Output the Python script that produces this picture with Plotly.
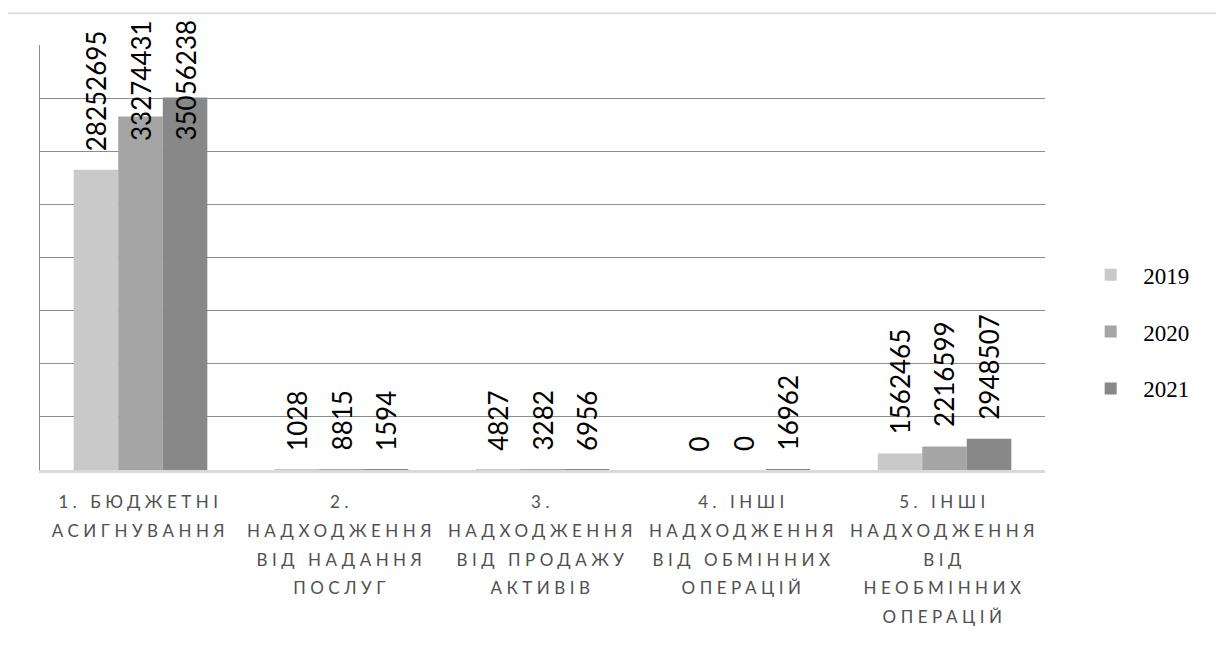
import plotly.graph_objects as go

categories = [
    "1. БЮДЖЕТНІ АСИГНУВАННЯ",
    "2. НАДХОДЖЕННЯ ВІД НАДАННЯ ПОСЛУГ",
    "3. НАДХОДЖЕННЯ ВІД ПРОДАЖУ АКТИВІВ",
    "4. ІНШІ НАДХОДЖЕННЯ ВІД ОБМІННИХ ОПЕРАЦІЙ",
    "5. ІНШІ НАДХОДЖЕННЯ ВІД НЕОБМІННИХ ОПЕРАЦІЙ",
]
label_lines = [
    ["1. БЮДЖЕТНІ", "АСИГНУВАННЯ"],
    ["2.", "НАДХОДЖЕННЯ", "ВІД НАДАННЯ", "ПОСЛУГ"],
    ["3.", "НАДХОДЖЕННЯ", "ВІД ПРОДАЖУ", "АКТИВІВ"],
    ["4. ІНШІ", "НАДХОДЖЕННЯ", "ВІД ОБМІННИХ", "ОПЕРАЦІЙ"],
    ["5. ІНШІ", "НАДХОДЖЕННЯ", "ВІД", "НЕОБМІННИХ", "ОПЕРАЦІЙ"],
]
years = ["2019", "2020", "2021"]
v2019 = [28252695, 1028, 4827, 0, 1562465]
v2020 = [33274431, 8815, 3282, 0, 2216599]
v2021 = [35056238, 1594, 6956, 16962, 2948507]
series = [v2019, v2020, v2021]
colors = ["#c9c9c9", "#a5a5a5", "#888888"]

Y_MAX = 40_000_000
Y_STEP = 5_000_000

fig = go.Figure()
for i, (yr, vals) in enumerate(zip(years, series)):
    fig.add_trace(go.Bar(
        x=categories, y=vals, name=yr,
        marker=dict(color=colors[i], line=dict(width=0)),
        legendgroup=yr,
    ))

# data labels
bar_px = 44.6
for i, vals in enumerate(series):
    for c, v in zip(categories, vals):
        big = v > 30_000_000
        fig.add_annotation(
            x=c, y=Y_MAX if big else v, xref="x", yref="y",
            text=str(v), textangle=-90, showarrow=False,
            xanchor="center", yanchor="top" if big else "bottom",
            xshift=(i - 1) * bar_px, yshift=27 if big else 17,
            font=dict(family="Lato", size=26, color="#000000"),
        )

def styled(lines):
    return "<br>".join(
        f'<span style="font-size:17px;letter-spacing:4.5px">{ln}</span>' for ln in lines
    )

# outer light frame
fig.add_shape(type="line", xref="paper", yref="paper",
              x0=-0.034, x1=1.2, y0=1.075, y1=1.075,
              line=dict(color="#e0e0e0", width=2))
fig.add_shape(type="line", xref="paper", yref="paper",
              x0=-0.034, x1=-0.034, y0=1.075, y1=-0.45,
              line=dict(color="#e0e0e0", width=2))

fig.update_layout(
    width=1224, height=646,
    margin=dict(l=32, r=187, t=37, b=184),
    paper_bgcolor="white", plot_bgcolor="white",
    barmode="group", bargap=0.335, bargroupgap=0,
    showlegend=True,
    legend=dict(
        x=1.033, y=0.51, xanchor="left", yanchor="top",
        font=dict(family="Liberation Serif", size=23, color="#000000"),
        tracegroupgap=24, itemwidth=55,
        bgcolor="rgba(0,0,0,0)",
    ),
    xaxis=dict(
        tickmode="array", tickvals=categories,
        ticktext=[styled(l) for l in label_lines],
        tickfont=dict(family="Lato", size=22, color="#505050"),
        showline=True, linecolor="#d9d9d9", linewidth=3,
        ticks="", showgrid=False, tickangle=0,
        ticklabelstandoff=9,
    ),
    yaxis=dict(
        range=[0, Y_MAX], dtick=Y_STEP, tick0=0,
        showticklabels=False, ticks="",
        showgrid=True, gridcolor="#8c8c8c", gridwidth=1,
        zeroline=False,
        showline=True, linecolor="#8c8c8c", linewidth=1,
    ),
)

fig.write_html("out.html")
